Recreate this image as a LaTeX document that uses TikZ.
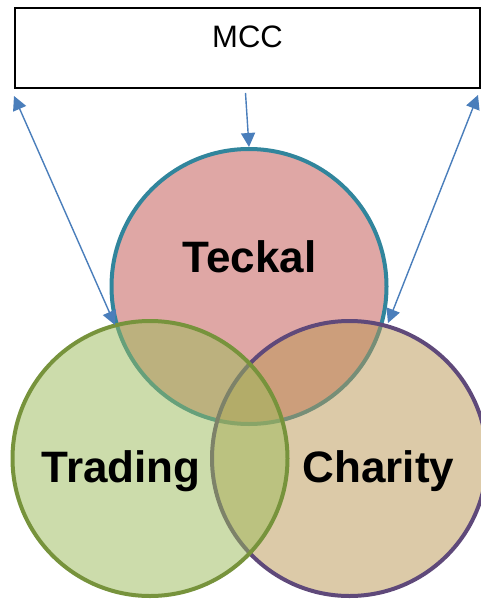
\documentclass[tikz,border=0pt]{standalone}
\usepackage{fontspec}
\setmainfont{Liberation Sans}
\usetikzlibrary{arrows.meta}
\definecolor{teckalfill}{HTML}{C0504D}
\definecolor{teckalline}{HTML}{31859C}
\definecolor{tradfill}{HTML}{9BBB59}
\definecolor{tradline}{HTML}{77933C}
\definecolor{charfill}{HTML}{BB9753}
\definecolor{charline}{HTML}{5F497A}
\definecolor{arrowblue}{HTML}{4A7EBB}
\tikzset{
  venn/.style={circle, minimum size=275pt, inner sep=0pt, line width=4pt, fill opacity=0.5, draw opacity=1},
  bigtext/.style={font=\fontsize{44}{50}\selectfont\bfseries, anchor=base, inner sep=0pt},
  conn/.style={draw=arrowblue, line width=1.4pt, -{Triangle[length=14pt,width=14pt]}},
  dconn/.style={draw=arrowblue, line width=1.4pt, {Triangle[length=14pt,width=14pt]}-{Triangle[length=14pt,width=14pt]}},
}
\begin{document}
\begin{tikzpicture}[x=1pt,y=-1pt]
\useasboundingbox[fill=white] (0,0) rectangle (480,599);
% MCC box
\node[draw=black, line width=1.5pt, fill=white, minimum width=465pt, minimum height=80pt, inner sep=0pt] (mcc) at (247.5,48) {};
\node[font=\fontsize{31}{36}\selectfont, anchor=base, inner sep=0pt] (mcctext) at (247.5,48) {MCC};
% circles
\node[venn, fill=teckalfill, draw=teckalline] (teckal) at (249,286.5) {};
\node[venn, fill=charfill, draw=charline] (charity) at (349.5,458.5) {};
\node[venn, fill=tradfill, draw=tradline] (trading) at (150,458.5) {};
% labels
\node[bigtext] (tecklabel) at (249.5,272.5) {Teckal};
\node[bigtext] (tradlabel) at (121,482) {Trading};
\node[bigtext] (charlabel) at (378.5,482) {Charity};
% connector ends
\coordinate (midtop) at (245.5,93);
\coordinate (ltop) at (14,96);
\coordinate (lbot) at (115,325);
\coordinate (rtop) at (478,95);
\coordinate (rbot) at (388,323);
% connectors
\draw[conn] (midtop) -- (teckal.north);
\draw[dconn] (ltop) -- (lbot);
\draw[dconn] (rtop) -- (rbot);
\end{tikzpicture}
\end{document}
